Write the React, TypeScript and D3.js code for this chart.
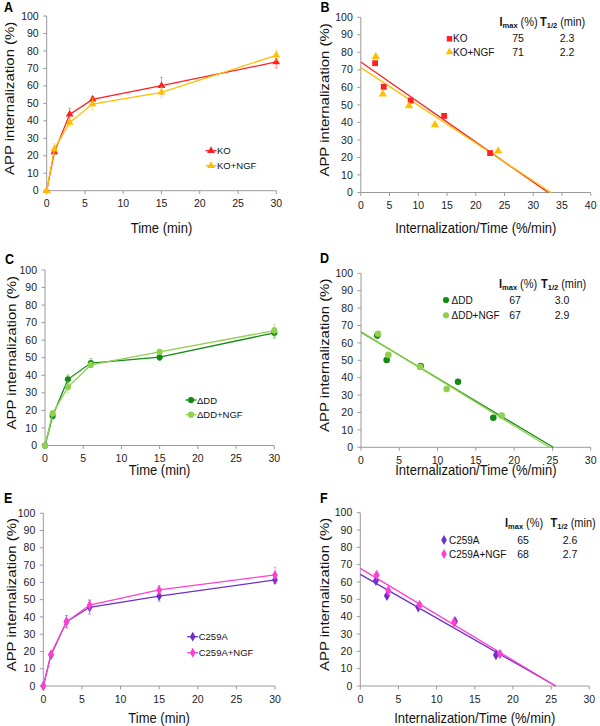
import React from 'react';
import * as d3 from 'd3';

// ---------------- DATA ----------------
const timeMinutes = [0, 1, 3, 6, 15, 30];
const koValues = [0, 22.1, 43.7, 52.3, 60.1, 73.7];
const koErrors = [0, 1, 3.5, 1.5, 4.8, 3.5];
const koNgfValues = [0, 23.9, 39.1, 49.6, 56.3, 77.5];
const koNgfErrors = [0, 3, 2.5, 3.5, 3, 3];

const ddValues = [0, 16.8, 37.7, 47.0, 50.3, 64.2];
const ddErrors = [0, 1, 2.5, 2.5, 2, 3];
const ddNgfValues = [0, 18.3, 33.3, 45.9, 53.3, 65.5];
const ddNgfErrors = [0, 1.5, 3, 1.5, 1.5, 3.5];

const c259aValues = [0, 18.0, 37.3, 45.6, 52.1, 61.4];
const c259aErrors = [0, 1.5, 3.5, 4, 3, 2];
const c259aNgfValues = [0, 18.5, 37.1, 46.9, 55.6, 64.3];
const c259aNgfErrors = [0, 1, 3.5, 3, 2.5, 4.5];

// Internalization/Time (x) vs internalization (y)
const koRateX = [2.49, 3.99, 8.68, 14.5, 22.5];
const koRateY = [73.8, 60.3, 52.5, 43.7, 22.5];
const koNgfRateX = [2.6, 3.82, 8.39, 12.9, 23.9];
const koNgfRateY = [77.5, 56.1, 49.4, 38.6, 23.6];
const koFit = [74.5, 32.6]; // [y-intercept, x-intercept]
const koNgfFit = [71.3, 33.1];

const ddRateX = [2.13, 3.35, 7.79, 12.67, 17.28];
const ddRateY = [64.2, 50.2, 46.7, 37.7, 17.0];
const ddNgfRateX = [2.22, 3.57, 7.7, 11.19, 18.37];
const ddNgfRateY = [65.3, 53.1, 46.2, 33.5, 18.2];
const ddFit = [66.1, 25.1];
const ddNgfFit = [66.5, 24.6];

const c259aRateX = [2.05, 3.49, 7.6, 12.4, 17.77];
const c259aRateY = [60.8, 52.1, 45.4, 37.3, 17.9];
const c259aNgfRateX = [2.14, 3.67, 7.77, 12.27, 18.3];
const c259aNgfRateY = [64.0, 55.0, 46.7, 36.7, 18.5];
const c259aFit = [64.4, 25.6];
const c259aNgfFit = [67.9, 25.6];

const koImax = ['75', '71'];
const koT12 = ['2.3', '2.2'];
const ddImax = ['67', '67'];
const ddT12 = ['3.0', '2.9'];
const c259aImax = ['65', '68'];
const c259aT12 = ['2.6', '2.7'];

const koNames = ['KO', 'KO+NGF'];
const ddNames = ['ΔDD', 'ΔDD+NGF'];
const c259aNames = ['C259A', 'C259A+NGF'];

const yTickValues = [0, 10, 20, 30, 40, 50, 60, 70, 80, 90, 100];
const timeTickValues = [0, 5, 10, 15, 20, 25, 30];
const rateTicks40 = [0, 5, 10, 15, 20, 25, 30, 35, 40];
const rateTicks30 = [0, 5, 10, 15, 20, 25, 30];

const yTitle = 'APP internalization (%)';
const timeTitle = 'Time (min)';
const rateTitle = 'Internalization/Time (%/min)';

// ---------------- STYLE ----------------
const FONT = "'Liberation Sans', Arial, Helvetica, sans-serif";
const AXIS = '#9a9a9a';
const SY = 1.15;

const colors = {
  ko: '#ff2020',
  koNgf: '#ffbf00',
  dd: '#138a13',
  ddNgf: '#8fd14f',
  c: '#6f2fc8',
  cNgf: '#ff3fcf',
};

type Layout = {
  x0: number; x1: number; y0: number; y1: number;
  xMax: number; xTicks: number[];
  titleY: number; yTitleX: number; letterX: number; letterY: number;
};

function Txt(props: any) {
  const { x, y, sy = 1, rotate = 0, children, ...rest } = props;
  return (
    <text transform={`translate(${x},${y}) scale(1,${sy}) rotate(${rotate})`} fontFamily={FONT} {...rest}>
      {children}
    </text>
  );
}

function Axes({ L, letter, xTitle }: { L: Layout; letter: string; xTitle: string }) {
  const x = d3.scaleLinear().domain([0, L.xMax]).range([L.x0, L.x1]);
  const y = d3.scaleLinear().domain([0, 100]).range([L.y0, L.y1]);
  return (
    <g>
      <line x1={L.x0} x2={L.x0} y1={L.y0} y2={L.y1} stroke={AXIS} strokeWidth={1} />
      <line x1={L.x0} x2={L.x1} y1={L.y0} y2={L.y0} stroke={AXIS} strokeWidth={1} />
      {yTickValues.map((v) => (
        <g key={'y' + v}>
          <line x1={L.x0 - 3.5} x2={L.x0} y1={y(v)} y2={y(v)} stroke={AXIS} />
          <Txt x={L.x0 - 8} y={y(v) + 3.6} fontSize={10.5} textAnchor="end" fill="#222">{v}</Txt>
        </g>
      ))}
      {L.xTicks.map((v) => (
        <g key={'x' + v}>
          <line x1={x(v)} x2={x(v)} y1={L.y0} y2={L.y0 + 3.5} stroke={AXIS} />
          <Txt x={x(v)} y={L.y0 + 16.5} fontSize={10.5} textAnchor="middle" fill="#222">{v}</Txt>
        </g>
      ))}
      <Txt x={(L.x0 + L.x1) / 2} y={L.titleY} sy={SY} fontSize={13} textAnchor="middle" fill="#111">{xTitle}</Txt>
      <Txt x={L.yTitleX} y={(L.y0 + L.y1) / 2 - 5} sy={SY} rotate={-90} fontSize={13} textAnchor="middle"
        dominantBaseline="central" fill="#111">{yTitle}</Txt>
      <Txt x={L.letterX} y={L.letterY} sy={1.1} fontSize={12.5} fontWeight="bold" fill="#000">{letter}</Txt>
    </g>
  );
}

type Series = { name: string; color: string; symbol: any; values: number[]; errors: number[] };

function symPath(symbol: any, size: number) {
  return d3.symbol().type(symbol).size(size)() as string;
}

function symSize(symbol: any) {
  if (symbol === d3.symbolTriangle) return 26;
  if (symbol === d3.symbolSquare) return 30;
  if (symbol === d3.symbolDiamond) return 28;
  return 30;
}

function TimePanel({ L, letter, series, legend }: { L: Layout; letter: string; series: Series[]; legend: { x: number; y: number[] } }) {
  const x = d3.scaleLinear().domain([0, L.xMax]).range([L.x0, L.x1]);
  const y = d3.scaleLinear().domain([0, 100]).range([L.y0, L.y1]);
  const line = d3.line<number>().x((_, i) => x(timeMinutes[i])).y((d) => y(d));
  return (
    <g>
      <Axes L={L} letter={letter} xTitle={timeTitle} />
      {series.map((s) => (
        <g key={s.name}>
          {s.values.map((v, i) => s.errors[i] > 0 && (
            <g key={i} stroke={s.color} strokeOpacity={0.45} strokeWidth={1}>
              <line x1={x(timeMinutes[i])} x2={x(timeMinutes[i])} y1={y(v - s.errors[i])} y2={y(v + s.errors[i])} />
              <line x1={x(timeMinutes[i]) - 1.5} x2={x(timeMinutes[i]) + 1.5} y1={y(v - s.errors[i])} y2={y(v - s.errors[i])} />
              <line x1={x(timeMinutes[i]) - 1.5} x2={x(timeMinutes[i]) + 1.5} y1={y(v + s.errors[i])} y2={y(v + s.errors[i])} />
            </g>
          ))}
          <path d={line(s.values) as string} fill="none" stroke={s.color} strokeWidth={1.3} />
          {s.values.map((v, i) => (
            <path key={'m' + i} d={symPath(s.symbol, symSize(s.symbol))}
              transform={`translate(${x(timeMinutes[i])},${y(v)})`} fill={s.color} />
          ))}
        </g>
      ))}
      {series.map((s, k) => (
        <g key={'lg' + k}>
          <line x1={legend.x - 5.5} x2={legend.x + 5.5} y1={legend.y[k]} y2={legend.y[k]} stroke={s.color} strokeWidth={1.3} />
          <path d={symPath(s.symbol, symSize(s.symbol))} transform={`translate(${legend.x},${legend.y[k]})`} fill={s.color} />
          <Txt x={legend.x + 6} y={legend.y[k] + 3.5} fontSize={9.5} fill="#111">{s.name}</Txt>
        </g>
      ))}
    </g>
  );
}

type RateSeries = { name: string; color: string; symbol: any; xs: number[]; ys: number[]; fit: number[]; imax: string; t12: string };

function RatePanel({ L, letter, series, leg }: {
  L: Layout; letter: string; series: RateSeries[];
  leg: { marker: number; label: number; imaxX: number; tX: number; v1: number; v2: number; header: number; rows: number[] };
}) {
  const x = d3.scaleLinear().domain([0, L.xMax]).range([L.x0, L.x1]);
  const y = d3.scaleLinear().domain([0, 100]).range([L.y0, L.y1]);
  return (
    <g>
      <Axes L={L} letter={letter} xTitle={rateTitle} />
      {series.map((s) => (
        <line key={'f' + s.name} x1={x(0)} y1={y(s.fit[0])} x2={x(s.fit[1])} y2={y(0)} stroke={s.color} strokeWidth={1.3} />
      ))}
      {series.map((s) => (
        <g key={s.name}>
          {s.xs.map((xv, i) => (
            <path key={i} d={symPath(s.symbol, symSize(s.symbol) + 4)} transform={`translate(${x(xv)},${y(s.ys[i])})`} fill={s.color} />
          ))}
        </g>
      ))}
      <Txt x={leg.imaxX} y={leg.header} sy={1.08} fontSize={11} fill="#111">
        <tspan fontWeight="bold">I</tspan>
        <tspan fontWeight="bold" fontSize={7.5} dy={2}>max</tspan>
        <tspan dy={-2}> (%)</tspan>
      </Txt>
      <Txt x={leg.tX} y={leg.header} sy={1.08} fontSize={11} fill="#111">
        <tspan fontWeight="bold">T</tspan>
        <tspan fontWeight="bold" fontSize={7.5} dy={2}>1/2</tspan>
        <tspan dy={-2}> (min)</tspan>
      </Txt>
      {series.map((s, k) => (
        <g key={'lg' + k}>
          <path d={symPath(s.symbol, symSize(s.symbol))} transform={`translate(${leg.marker},${leg.rows[k] - 3.5})`} fill={s.color} />
          <Txt x={leg.label} y={leg.rows[k]} sy={1.08} fontSize={10} fill="#111">{s.name}</Txt>
          <Txt x={leg.v1} y={leg.rows[k]} sy={1.08} fontSize={10.5} textAnchor="middle" fill="#111">{s.imax}</Txt>
          <Txt x={leg.v2} y={leg.rows[k]} sy={1.08} fontSize={10.5} textAnchor="middle" fill="#111">{s.t12}</Txt>
        </g>
      ))}
    </g>
  );
}

const LA: Layout = { x0: 46.7, x1: 276.3, y0: 190.7, y1: 16, xMax: 30, xTicks: timeTickValues, titleY: 232.7, yTitleX: 9.5, letterX: 4, letterY: 12 };
const LB: Layout = { x0: 360.8, x1: 590.7, y0: 192.5, y1: 17.3, xMax: 40, xTicks: rateTicks40, titleY: 233.3, yTitleX: 324, letterX: 320.5, letterY: 12 };
const LC: Layout = { x0: 45, x1: 274.3, y0: 445.5, y1: 270, xMax: 30, xTicks: timeTickValues, titleY: 475, yTitleX: 11.5, letterX: 5, letterY: 264 };
const LD: Layout = { x0: 361, x1: 590.7, y0: 447.3, y1: 273.3, xMax: 30, xTicks: rateTicks30, titleY: 475, yTitleX: 324, letterX: 320, letterY: 263 };
const LE: Layout = { x0: 43.3, x1: 275, y0: 686, y1: 513.3, xMax: 30, xTicks: timeTickValues, titleY: 722.5, yTitleX: 11.5, letterX: 4, letterY: 503 };
const LF: Layout = { x0: 360.3, x1: 589.3, y0: 686, y1: 512.7, xMax: 30, xTicks: rateTicks30, titleY: 722.5, yTitleX: 324, letterX: 320, letterY: 503 };

export default function App() {
  const aSeries: Series[] = [
    { name: koNames[0], color: colors.ko, symbol: d3.symbolTriangle, values: koValues, errors: koErrors },
    { name: koNames[1], color: colors.koNgf, symbol: d3.symbolTriangle, values: koNgfValues, errors: koNgfErrors },
  ];
  const cSeries: Series[] = [
    { name: ddNames[0], color: colors.dd, symbol: d3.symbolCircle, values: ddValues, errors: ddErrors },
    { name: ddNames[1], color: colors.ddNgf, symbol: d3.symbolCircle, values: ddNgfValues, errors: ddNgfErrors },
  ];
  const eSeries: Series[] = [
    { name: c259aNames[0], color: colors.c, symbol: d3.symbolDiamond, values: c259aValues, errors: c259aErrors },
    { name: c259aNames[1], color: colors.cNgf, symbol: d3.symbolDiamond, values: c259aNgfValues, errors: c259aNgfErrors },
  ];
  const bSeries: RateSeries[] = [
    { name: koNames[0], color: colors.ko, symbol: d3.symbolSquare, xs: koRateX, ys: koRateY, fit: koFit, imax: koImax[0], t12: koT12[0] },
    { name: koNames[1], color: colors.koNgf, symbol: d3.symbolTriangle, xs: koNgfRateX, ys: koNgfRateY, fit: koNgfFit, imax: koImax[1], t12: koT12[1] },
  ];
  const dSeries: RateSeries[] = [
    { name: ddNames[0], color: colors.dd, symbol: d3.symbolCircle, xs: ddRateX, ys: ddRateY, fit: ddFit, imax: ddImax[0], t12: ddT12[0] },
    { name: ddNames[1], color: colors.ddNgf, symbol: d3.symbolCircle, xs: ddNgfRateX, ys: ddNgfRateY, fit: ddNgfFit, imax: ddImax[1], t12: ddT12[1] },
  ];
  const fSeries: RateSeries[] = [
    { name: c259aNames[0], color: colors.c, symbol: d3.symbolDiamond, xs: c259aRateX, ys: c259aRateY, fit: c259aFit, imax: c259aImax[0], t12: c259aT12[0] },
    { name: c259aNames[1], color: colors.cNgf, symbol: d3.symbolDiamond, xs: c259aNgfRateX, ys: c259aNgfRateY, fit: c259aNgfFit, imax: c259aImax[1], t12: c259aT12[1] },
  ];
  return (
    <div style={{ position: 'absolute', left: 0, top: 0 }}>
      <svg width={600} height={726} style={{ display: 'block', background: '#fff' }}>
        <TimePanel L={LA} letter="A" series={aSeries} legend={{ x: 211, y: [150.7, 165.7] }} />
        <RatePanel L={LB} letter="B" series={bSeries}
          leg={{ marker: 449.5, label: 453, imaxX: 499.5, tX: 540, v1: 518, v2: 567, header: 26, rows: [42.3, 55.5] }} />
        <TimePanel L={LC} letter="C" series={cSeries} legend={{ x: 191, y: [400, 414.7] }} />
        <RatePanel L={LD} letter="D" series={dSeries}
          leg={{ marker: 446, label: 451.5, imaxX: 499, tX: 541, v1: 515, v2: 562, header: 287.5, rows: [303.5, 318.8] }} />
        <TimePanel L={LE} letter="E" series={eSeries} legend={{ x: 192.7, y: [636.7, 652.7] }} />
        <RatePanel L={LF} letter="F" series={fSeries}
          leg={{ marker: 444, label: 449, imaxX: 505, tX: 550.5, v1: 523, v2: 570, header: 526.5, rows: [543.5, 557.5] }} />
      </svg>
    </div>
  );
}
